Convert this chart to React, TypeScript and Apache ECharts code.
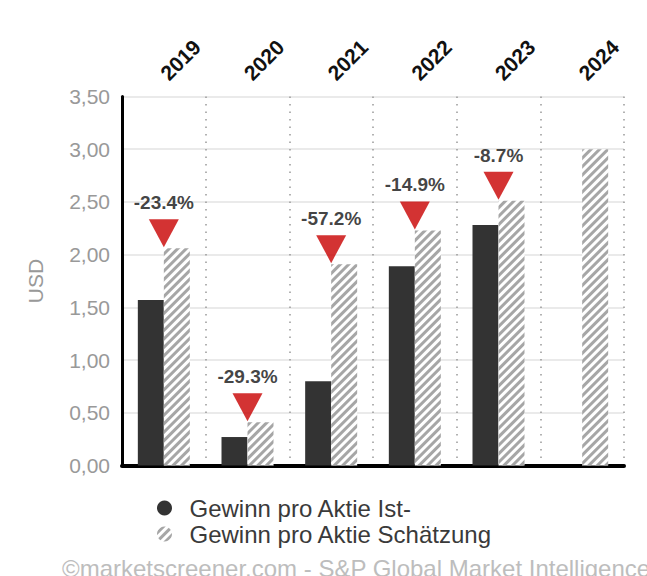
import React, { useEffect, useRef } from "react";
import * as echarts from "echarts";

const years = ["2019", "2020", "2021", "2022", "2023", "2024"];
const actualEPS: (number | null)[] = [1.57, 0.27, 0.8, 1.89, 2.28, null];
const estimateEPS: number[] = [2.06, 0.41, 1.91, 2.23, 2.51, 3.0];
const changeLabels: (string | null)[] = ["-23.4%", "-29.3%", "-57.2%", "-14.9%", "-8.7%", null];
const seriesNames = ["Gewinn pro Aktie Ist-", "Gewinn pro Aktie Schätzung"];
const yAxisName = "USD";
const footerText = "©marketscreener.com - S&P Global Market Intelligence";

const FONT = "'Liberation Sans', Arial, Helvetica, sans-serif";

export default function App() {
  const ref = useRef<HTMLDivElement>(null);

  useEffect(() => {
    if (!ref.current) return;
    const chart = echarts.init(ref.current, null, { renderer: "svg" });

    const markerData = estimateEPS.map((v, i) => (changeLabels[i] ? v : "-"));

    chart.setOption({
      animation: false,
      backgroundColor: "#ffffff",
      textStyle: { fontFamily: FONT },
      grid: { left: 122, right: 23, top: 96.5, bottom: 110.5, containLabel: false },
      legend: {
        data: seriesNames.map((n) => ({ name: n, icon: "circle" })),
        orient: "vertical",
        left: 152,
        top: 491,
        itemWidth: 40,
        itemHeight: 15,
        itemGap: 2,
        textStyle: { color: "#3a3a3a", fontSize: 24, fontFamily: FONT },
        selectedMode: false,
      },
      xAxis: [
        {
          type: "category",
          data: years,
          position: "bottom",
          axisLine: { show: true, lineStyle: { color: "#000000", width: 4 } },
          axisTick: { show: false },
          axisLabel: { show: false },
          splitLine: { show: true, lineStyle: { color: "#999999", width: 1.5, type: [1.5, 6] } },
        },
        {
          type: "category",
          data: years,
          position: "top",
          axisLine: { show: false },
          axisTick: { show: false },
          splitLine: { show: false },
          axisLabel: {
            rotate: -45,
            margin: 20,
            color: "#111111",
            fontSize: 21,
            fontWeight: "bold",
            fontFamily: FONT,
          },
        },
      ],
      yAxis: {
        type: "value",
        min: 0,
        max: 3.5,
        interval: 0.5,
        name: yAxisName,
        nameLocation: "middle",
        nameGap: 76,
        nameTextStyle: { color: "#999999", fontSize: 21, fontFamily: FONT },
        axisLine: { show: true, lineStyle: { color: "#000000", width: 3 } },
        axisTick: { show: false },
        axisLabel: {
          color: "#999999",
          fontSize: 21,
          margin: 12,
          fontFamily: FONT,
          formatter: (v: number) => v.toFixed(2).replace(".", ","),
        },
        splitLine: { show: true, lineStyle: { color: "#e3e3e3", width: 1.5 } },
      },
      series: [
        {
          name: seriesNames[0],
          type: "bar",
          data: actualEPS.map((v) => (v === null ? "-" : v)),
          barWidth: 26,
          barGap: "0%",
          itemStyle: { color: "#333333" },
          z: 2,
        },
        {
          name: seriesNames[1],
          type: "bar",
          data: estimateEPS,
          barWidth: 26,
          barGap: "0%",
          itemStyle: {
            color: "#ffffff",
            decal: {
              symbol: "rect",
              symbolSize: 1,
              dashArrayX: [1, 0],
              dashArrayY: [3, 3],
              rotation: -Math.PI / 4,
              color: "#a6a6a6",
            },
          },
          z: 2,
        },
        {
          type: "scatter",
          data: markerData,
          symbol: "path://M0,0 L30,0 L15,28 Z",
          symbolSize: [30, 28],
          symbolOffset: [0, -15],
          itemStyle: { color: "#c80000" },
          z: 5,
          label: {
            show: true,
            position: "top",
            distance: 7,
            color: "#111111",
            fontSize: 19,
            fontWeight: "bold",
            fontFamily: FONT,
            formatter: (p: any) => changeLabels[p.dataIndex] || "",
          },
        },
      ],
      graphic: [
        {
          type: "text",
          left: 62,
          top: 556,
          style: { text: footerText, fontSize: 24, fill: "#bdbdbd", fontFamily: FONT },
        },
      ],
    });

    return () => chart.dispose();
  }, []);

  return (
    <div
      ref={ref}
      style={{ position: "fixed", left: 0, top: 0, width: 647, height: 576 }}
    />
  );
}
